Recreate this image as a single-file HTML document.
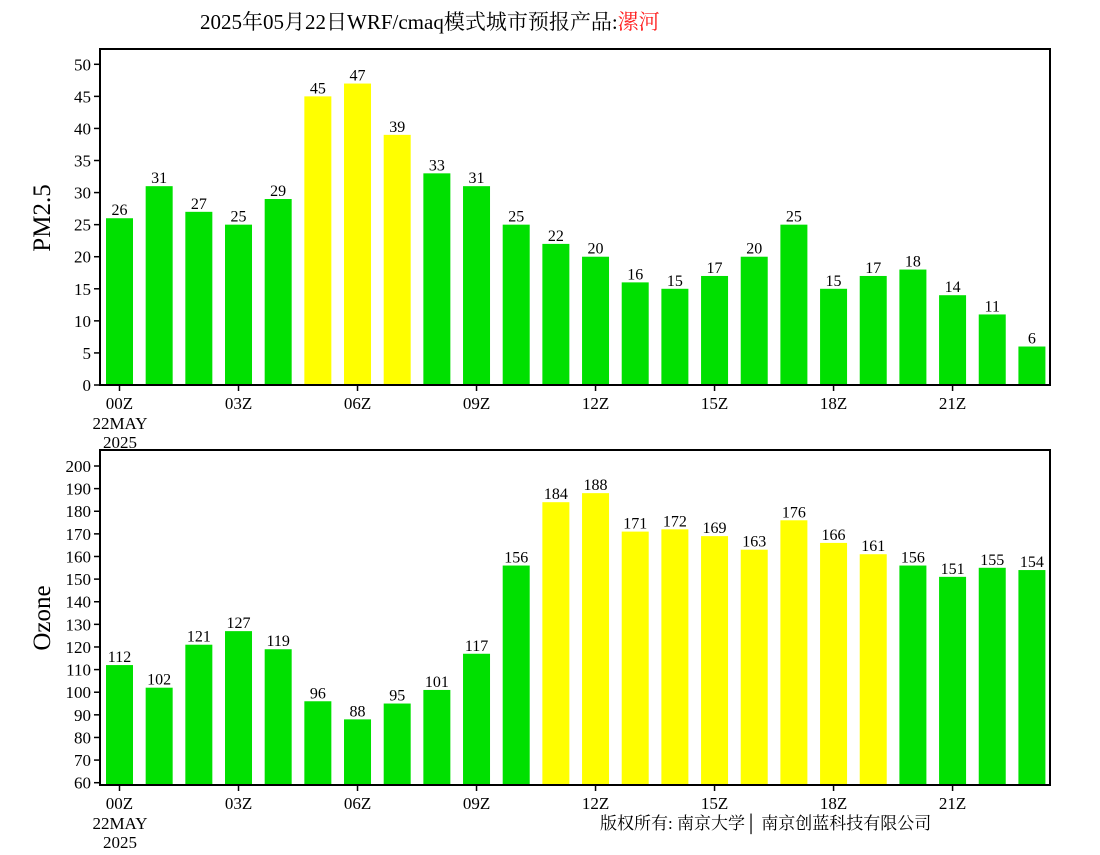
<!DOCTYPE html>
<html><head><meta charset="utf-8"><style>
body{margin:0;background:#fff;}
svg text{font-family:"Liberation Serif","Noto Serif CJK SC",serif;}
</style></head><body>
<svg id="c" width="1100" height="850" xmlns="http://www.w3.org/2000/svg">
<text x="200" y="29" font-size="21">2025年05月22日WRF/cmaq模式城市预报产品:<tspan fill="#ff2020">漯河</tspan></text>
<text x="600" y="829" font-size="17">版权所有: 南京大学│ 南京创蓝科技有限公司</text>
</svg>
<script>
const hours=["00Z","01Z","02Z","03Z","04Z","05Z","06Z","07Z","08Z","09Z","10Z","11Z","12Z","13Z","14Z","15Z","16Z","17Z","18Z","19Z","20Z","21Z","22Z","23Z"];
const pm25=[26,31,27,25,29,45,47,39,33,31,25,22,20,16,15,17,20,25,15,17,18,14,11,6];
const ozone=[112,102,121,127,119,96,88,95,101,117,156,184,188,171,172,169,163,176,166,161,156,151,155,154];
const pmTicks=[0,5,10,15,20,25,30,35,40,45,50];
const o3Ticks=[60,70,80,90,100,110,120,130,140,150,160,170,180,190,200];
const svg=document.getElementById('c');
const NS="http://www.w3.org/2000/svg";
function mk(tag,attrs,parent){const e=document.createElementNS(NS,tag);for(const k in attrs)e.setAttribute(k,attrs[k]);(parent||svg).appendChild(e);return e;}
function panel(cfg){
  const g=mk('g',{});
  
  
  const x=i=>119.5+i*39.67;
  const y=v=>cfg.y0+(v-cfg.v0)*(cfg.y1-cfg.y0)/(cfg.v1-cfg.v0);
  cfg.values.forEach((v,i)=>{
    const r=mk('rect',{x:x(i)-13.5,y:y(v),width:27,height:cfg.base-y(v),fill:v>cfg.thr?'#ffff00':'#00e000'},g);
    
    
    const t=mk('text',{x:x(i),y:y(v)-3,'font-size':16,'text-anchor':'middle'},g);
    t.textContent=v;
    
    
  });
  const fr=mk('rect',{x:100,y:cfg.top,width:950,height:cfg.base-cfg.top,fill:'none',stroke:'#000','stroke-width':2},g);
  
  
  cfg.ticks.forEach(v=>{
    mk('line',{x1:94,x2:100,y1:y(v),y2:y(v),stroke:'#000','stroke-width':1.5},g);
    const t=mk('text',{x:91,y:y(v)+6,'font-size':17,'text-anchor':'end'},g);
    t.textContent=v;
    
    
  });
  hours.forEach((h,i)=>{
    if(i%3) return;
    mk('line',{x1:x(i),x2:x(i),y1:cfg.base,y2:cfg.base+6,stroke:'#000','stroke-width':1.5},g);
    const t=mk('text',{x:x(i),y:cfg.base+24,'font-size':17,'text-anchor':'middle'},g);
    t.textContent=h;
    
    
  });
  const d1=mk('text',{x:120,y:cfg.base+44,'font-size':17,'text-anchor':'middle'},g);d1.textContent='22MAY';
  
  
  const d2=mk('text',{x:120,y:cfg.base+63,'font-size':17,'text-anchor':'middle'},g);d2.textContent='2025';
  
  
  const yt=mk('text',{x:0,y:0,'font-size':25,'text-anchor':'middle',transform:`translate(50,${cfg.labelY}) rotate(-90)`},g);
  yt.textContent=cfg.label;
  
  
}
panel({name:'pm25-panel',values:pm25,ticks:pmTicks,v0:0,v1:50,y0:385,y1:64.3,base:385,top:49,thr:35,label:'PM2.5',labelY:218});
panel({name:'ozone-panel',values:ozone,ticks:o3Ticks,v0:60,v1:200,y0:782.7,y1:466,base:785,top:450,thr:160,label:'Ozone',labelY:618});
</script>
</body></html>
